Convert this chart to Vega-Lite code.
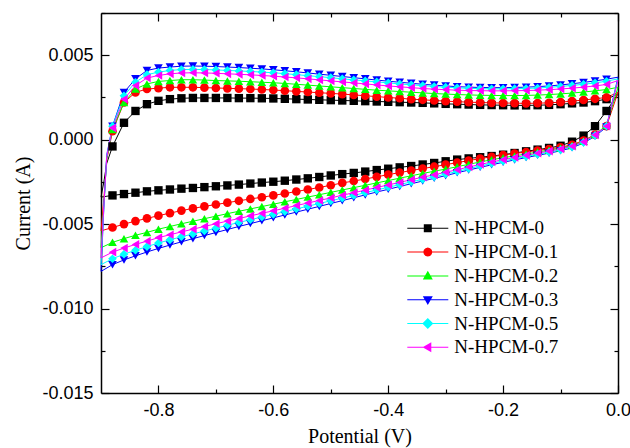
{
"$schema":"https://vega.github.io/schema/vega-lite/v6.json",
"width":517,"height":380,
"autosize":"none",
"padding":{"left":101,"top":13,"right":12,"bottom":55},
"background":"white",
"data":{"values":[
{"sample":"N-HPCM-0","scan":"fwd","E":-0.9,"I":-0.0034},{"sample":"N-HPCM-0","scan":"fwd","E":-0.895,"I":-0.0025},{"sample":"N-HPCM-0","scan":"fwd","E":-0.89,"I":-0.0014},{"sample":"N-HPCM-0","scan":"fwd","E":-0.88,"I":-0.0004},{"sample":"N-HPCM-0","scan":"fwd","E":-0.86,"I":0.001},{"sample":"N-HPCM-0","scan":"fwd","E":-0.84,"I":0.0017},{"sample":"N-HPCM-0","scan":"fwd","E":-0.82,"I":0.0021},{"sample":"N-HPCM-0","scan":"fwd","E":-0.8,"I":0.0023},{"sample":"N-HPCM-0","scan":"fwd","E":-0.78,"I":0.0024},{"sample":"N-HPCM-0","scan":"fwd","E":-0.76,"I":0.00245},{"sample":"N-HPCM-0","scan":"fwd","E":-0.74,"I":0.00247},{"sample":"N-HPCM-0","scan":"fwd","E":-0.72,"I":0.00247},{"sample":"N-HPCM-0","scan":"fwd","E":-0.7,"I":0.00247},{"sample":"N-HPCM-0","scan":"fwd","E":-0.68,"I":0.00247},{"sample":"N-HPCM-0","scan":"fwd","E":-0.66,"I":0.00246},{"sample":"N-HPCM-0","scan":"fwd","E":-0.64,"I":0.00246},{"sample":"N-HPCM-0","scan":"fwd","E":-0.62,"I":0.00245},{"sample":"N-HPCM-0","scan":"fwd","E":-0.6,"I":0.00244},{"sample":"N-HPCM-0","scan":"fwd","E":-0.58,"I":0.00242},{"sample":"N-HPCM-0","scan":"fwd","E":-0.56,"I":0.0024},{"sample":"N-HPCM-0","scan":"fwd","E":-0.54,"I":0.00238},{"sample":"N-HPCM-0","scan":"fwd","E":-0.52,"I":0.00236},{"sample":"N-HPCM-0","scan":"fwd","E":-0.5,"I":0.00234},{"sample":"N-HPCM-0","scan":"fwd","E":-0.48,"I":0.00232},{"sample":"N-HPCM-0","scan":"fwd","E":-0.46,"I":0.0023},{"sample":"N-HPCM-0","scan":"fwd","E":-0.44,"I":0.00228},{"sample":"N-HPCM-0","scan":"fwd","E":-0.42,"I":0.00226},{"sample":"N-HPCM-0","scan":"fwd","E":-0.4,"I":0.00224},{"sample":"N-HPCM-0","scan":"fwd","E":-0.38,"I":0.00222},{"sample":"N-HPCM-0","scan":"fwd","E":-0.36,"I":0.0022},{"sample":"N-HPCM-0","scan":"fwd","E":-0.34,"I":0.00218},{"sample":"N-HPCM-0","scan":"fwd","E":-0.32,"I":0.00215},{"sample":"N-HPCM-0","scan":"fwd","E":-0.3,"I":0.00212},{"sample":"N-HPCM-0","scan":"fwd","E":-0.28,"I":0.0021},{"sample":"N-HPCM-0","scan":"fwd","E":-0.26,"I":0.00208},{"sample":"N-HPCM-0","scan":"fwd","E":-0.24,"I":0.00206},{"sample":"N-HPCM-0","scan":"fwd","E":-0.22,"I":0.00205},{"sample":"N-HPCM-0","scan":"fwd","E":-0.2,"I":0.00204},{"sample":"N-HPCM-0","scan":"fwd","E":-0.18,"I":0.00203},{"sample":"N-HPCM-0","scan":"fwd","E":-0.16,"I":0.00203},{"sample":"N-HPCM-0","scan":"fwd","E":-0.14,"I":0.00204},{"sample":"N-HPCM-0","scan":"fwd","E":-0.12,"I":0.00206},{"sample":"N-HPCM-0","scan":"fwd","E":-0.1,"I":0.0021},{"sample":"N-HPCM-0","scan":"fwd","E":-0.08,"I":0.00215},{"sample":"N-HPCM-0","scan":"fwd","E":-0.06,"I":0.0022},{"sample":"N-HPCM-0","scan":"fwd","E":-0.04,"I":0.00228},{"sample":"N-HPCM-0","scan":"fwd","E":-0.02,"I":0.0024},{"sample":"N-HPCM-0","scan":"fwd","E":0,"I":0.0027},
{"sample":"N-HPCM-0","scan":"rev","E":0,"I":0.0027},{"sample":"N-HPCM-0","scan":"rev","E":-0.02,"I":0.0017},{"sample":"N-HPCM-0","scan":"rev","E":-0.04,"I":0.0008},{"sample":"N-HPCM-0","scan":"rev","E":-0.06,"I":0.00024},{"sample":"N-HPCM-0","scan":"rev","E":-0.08,"I":-0.00012},{"sample":"N-HPCM-0","scan":"rev","E":-0.1,"I":-0.00036},{"sample":"N-HPCM-0","scan":"rev","E":-0.12,"I":-0.00049},{"sample":"N-HPCM-0","scan":"rev","E":-0.14,"I":-0.00059},{"sample":"N-HPCM-0","scan":"rev","E":-0.16,"I":-0.00069},{"sample":"N-HPCM-0","scan":"rev","E":-0.18,"I":-0.00079},{"sample":"N-HPCM-0","scan":"rev","E":-0.2,"I":-0.00089},{"sample":"N-HPCM-0","scan":"rev","E":-0.22,"I":-0.00097},{"sample":"N-HPCM-0","scan":"rev","E":-0.24,"I":-0.00104},{"sample":"N-HPCM-0","scan":"rev","E":-0.26,"I":-0.00111},{"sample":"N-HPCM-0","scan":"rev","E":-0.28,"I":-0.00118},{"sample":"N-HPCM-0","scan":"rev","E":-0.3,"I":-0.00128},{"sample":"N-HPCM-0","scan":"rev","E":-0.32,"I":-0.00138},{"sample":"N-HPCM-0","scan":"rev","E":-0.34,"I":-0.00147},{"sample":"N-HPCM-0","scan":"rev","E":-0.36,"I":-0.00156},{"sample":"N-HPCM-0","scan":"rev","E":-0.38,"I":-0.00164},{"sample":"N-HPCM-0","scan":"rev","E":-0.4,"I":-0.00172},{"sample":"N-HPCM-0","scan":"rev","E":-0.42,"I":-0.0018},{"sample":"N-HPCM-0","scan":"rev","E":-0.44,"I":-0.00189},{"sample":"N-HPCM-0","scan":"rev","E":-0.46,"I":-0.00197},{"sample":"N-HPCM-0","scan":"rev","E":-0.48,"I":-0.00204},{"sample":"N-HPCM-0","scan":"rev","E":-0.5,"I":-0.00212},{"sample":"N-HPCM-0","scan":"rev","E":-0.52,"I":-0.00221},{"sample":"N-HPCM-0","scan":"rev","E":-0.54,"I":-0.00229},{"sample":"N-HPCM-0","scan":"rev","E":-0.56,"I":-0.00236},{"sample":"N-HPCM-0","scan":"rev","E":-0.58,"I":-0.00243},{"sample":"N-HPCM-0","scan":"rev","E":-0.6,"I":-0.00249},{"sample":"N-HPCM-0","scan":"rev","E":-0.62,"I":-0.00254},{"sample":"N-HPCM-0","scan":"rev","E":-0.64,"I":-0.0026},{"sample":"N-HPCM-0","scan":"rev","E":-0.66,"I":-0.00266},{"sample":"N-HPCM-0","scan":"rev","E":-0.68,"I":-0.00271},{"sample":"N-HPCM-0","scan":"rev","E":-0.7,"I":-0.00276},{"sample":"N-HPCM-0","scan":"rev","E":-0.72,"I":-0.00281},{"sample":"N-HPCM-0","scan":"rev","E":-0.74,"I":-0.00286},{"sample":"N-HPCM-0","scan":"rev","E":-0.76,"I":-0.0029},{"sample":"N-HPCM-0","scan":"rev","E":-0.78,"I":-0.00295},{"sample":"N-HPCM-0","scan":"rev","E":-0.8,"I":-0.003},{"sample":"N-HPCM-0","scan":"rev","E":-0.82,"I":-0.00306},{"sample":"N-HPCM-0","scan":"rev","E":-0.84,"I":-0.00314},{"sample":"N-HPCM-0","scan":"rev","E":-0.86,"I":-0.00322},{"sample":"N-HPCM-0","scan":"rev","E":-0.88,"I":-0.0033},{"sample":"N-HPCM-0","scan":"rev","E":-0.9,"I":-0.0034},
{"sample":"N-HPCM-0.1","scan":"fwd","E":-0.9,"I":-0.0054},{"sample":"N-HPCM-0.1","scan":"fwd","E":-0.895,"I":-0.0035},{"sample":"N-HPCM-0.1","scan":"fwd","E":-0.89,"I":-0.0012},{"sample":"N-HPCM-0.1","scan":"fwd","E":-0.88,"I":0.0005},{"sample":"N-HPCM-0.1","scan":"fwd","E":-0.86,"I":0.0022},{"sample":"N-HPCM-0.1","scan":"fwd","E":-0.84,"I":0.0028},{"sample":"N-HPCM-0.1","scan":"fwd","E":-0.82,"I":0.003},{"sample":"N-HPCM-0.1","scan":"fwd","E":-0.8,"I":0.00305},{"sample":"N-HPCM-0.1","scan":"fwd","E":-0.78,"I":0.0031},{"sample":"N-HPCM-0.1","scan":"fwd","E":-0.76,"I":0.0031},{"sample":"N-HPCM-0.1","scan":"fwd","E":-0.74,"I":0.0031},{"sample":"N-HPCM-0.1","scan":"fwd","E":-0.72,"I":0.00308},{"sample":"N-HPCM-0.1","scan":"fwd","E":-0.7,"I":0.00306},{"sample":"N-HPCM-0.1","scan":"fwd","E":-0.68,"I":0.00304},{"sample":"N-HPCM-0.1","scan":"fwd","E":-0.66,"I":0.00302},{"sample":"N-HPCM-0.1","scan":"fwd","E":-0.64,"I":0.003},{"sample":"N-HPCM-0.1","scan":"fwd","E":-0.62,"I":0.00297},{"sample":"N-HPCM-0.1","scan":"fwd","E":-0.6,"I":0.00294},{"sample":"N-HPCM-0.1","scan":"fwd","E":-0.58,"I":0.0029},{"sample":"N-HPCM-0.1","scan":"fwd","E":-0.56,"I":0.00286},{"sample":"N-HPCM-0.1","scan":"fwd","E":-0.54,"I":0.00282},{"sample":"N-HPCM-0.1","scan":"fwd","E":-0.52,"I":0.00278},{"sample":"N-HPCM-0.1","scan":"fwd","E":-0.5,"I":0.00274},{"sample":"N-HPCM-0.1","scan":"fwd","E":-0.48,"I":0.0027},{"sample":"N-HPCM-0.1","scan":"fwd","E":-0.46,"I":0.00265},{"sample":"N-HPCM-0.1","scan":"fwd","E":-0.44,"I":0.0026},{"sample":"N-HPCM-0.1","scan":"fwd","E":-0.42,"I":0.00255},{"sample":"N-HPCM-0.1","scan":"fwd","E":-0.4,"I":0.0025},{"sample":"N-HPCM-0.1","scan":"fwd","E":-0.38,"I":0.00245},{"sample":"N-HPCM-0.1","scan":"fwd","E":-0.36,"I":0.0024},{"sample":"N-HPCM-0.1","scan":"fwd","E":-0.34,"I":0.00236},{"sample":"N-HPCM-0.1","scan":"fwd","E":-0.32,"I":0.00232},{"sample":"N-HPCM-0.1","scan":"fwd","E":-0.3,"I":0.00228},{"sample":"N-HPCM-0.1","scan":"fwd","E":-0.28,"I":0.00225},{"sample":"N-HPCM-0.1","scan":"fwd","E":-0.26,"I":0.00222},{"sample":"N-HPCM-0.1","scan":"fwd","E":-0.24,"I":0.0022},{"sample":"N-HPCM-0.1","scan":"fwd","E":-0.22,"I":0.00218},{"sample":"N-HPCM-0.1","scan":"fwd","E":-0.2,"I":0.00217},{"sample":"N-HPCM-0.1","scan":"fwd","E":-0.18,"I":0.00216},{"sample":"N-HPCM-0.1","scan":"fwd","E":-0.16,"I":0.00215},{"sample":"N-HPCM-0.1","scan":"fwd","E":-0.14,"I":0.00216},{"sample":"N-HPCM-0.1","scan":"fwd","E":-0.12,"I":0.00218},{"sample":"N-HPCM-0.1","scan":"fwd","E":-0.1,"I":0.00222},{"sample":"N-HPCM-0.1","scan":"fwd","E":-0.08,"I":0.00228},{"sample":"N-HPCM-0.1","scan":"fwd","E":-0.06,"I":0.00235},{"sample":"N-HPCM-0.1","scan":"fwd","E":-0.04,"I":0.00242},{"sample":"N-HPCM-0.1","scan":"fwd","E":-0.02,"I":0.0025},{"sample":"N-HPCM-0.1","scan":"fwd","E":0,"I":0.0028},
{"sample":"N-HPCM-0.1","scan":"rev","E":0,"I":0.0028},{"sample":"N-HPCM-0.1","scan":"rev","E":-0.02,"I":0.0008},{"sample":"N-HPCM-0.1","scan":"rev","E":-0.04,"I":0.0003},{"sample":"N-HPCM-0.1","scan":"rev","E":-0.06,"I":-0.00005},{"sample":"N-HPCM-0.1","scan":"rev","E":-0.08,"I":-0.0003},{"sample":"N-HPCM-0.1","scan":"rev","E":-0.1,"I":-0.00045},{"sample":"N-HPCM-0.1","scan":"rev","E":-0.12,"I":-0.00055},{"sample":"N-HPCM-0.1","scan":"rev","E":-0.14,"I":-0.00064},{"sample":"N-HPCM-0.1","scan":"rev","E":-0.16,"I":-0.00073},{"sample":"N-HPCM-0.1","scan":"rev","E":-0.18,"I":-0.00082},{"sample":"N-HPCM-0.1","scan":"rev","E":-0.2,"I":-0.00091},{"sample":"N-HPCM-0.1","scan":"rev","E":-0.22,"I":-0.00101},{"sample":"N-HPCM-0.1","scan":"rev","E":-0.24,"I":-0.00112},{"sample":"N-HPCM-0.1","scan":"rev","E":-0.26,"I":-0.00124},{"sample":"N-HPCM-0.1","scan":"rev","E":-0.28,"I":-0.00136},{"sample":"N-HPCM-0.1","scan":"rev","E":-0.3,"I":-0.00148},{"sample":"N-HPCM-0.1","scan":"rev","E":-0.32,"I":-0.0016},{"sample":"N-HPCM-0.1","scan":"rev","E":-0.34,"I":-0.00171},{"sample":"N-HPCM-0.1","scan":"rev","E":-0.36,"I":-0.00183},{"sample":"N-HPCM-0.1","scan":"rev","E":-0.38,"I":-0.00195},{"sample":"N-HPCM-0.1","scan":"rev","E":-0.4,"I":-0.00207},{"sample":"N-HPCM-0.1","scan":"rev","E":-0.42,"I":-0.0022},{"sample":"N-HPCM-0.1","scan":"rev","E":-0.44,"I":-0.00233},{"sample":"N-HPCM-0.1","scan":"rev","E":-0.46,"I":-0.00245},{"sample":"N-HPCM-0.1","scan":"rev","E":-0.48,"I":-0.00256},{"sample":"N-HPCM-0.1","scan":"rev","E":-0.5,"I":-0.0027},{"sample":"N-HPCM-0.1","scan":"rev","E":-0.52,"I":-0.00283},{"sample":"N-HPCM-0.1","scan":"rev","E":-0.54,"I":-0.00295},{"sample":"N-HPCM-0.1","scan":"rev","E":-0.56,"I":-0.00307},{"sample":"N-HPCM-0.1","scan":"rev","E":-0.58,"I":-0.00319},{"sample":"N-HPCM-0.1","scan":"rev","E":-0.6,"I":-0.0033},{"sample":"N-HPCM-0.1","scan":"rev","E":-0.62,"I":-0.00341},{"sample":"N-HPCM-0.1","scan":"rev","E":-0.64,"I":-0.00351},{"sample":"N-HPCM-0.1","scan":"rev","E":-0.66,"I":-0.00362},{"sample":"N-HPCM-0.1","scan":"rev","E":-0.68,"I":-0.00373},{"sample":"N-HPCM-0.1","scan":"rev","E":-0.7,"I":-0.00384},{"sample":"N-HPCM-0.1","scan":"rev","E":-0.72,"I":-0.00395},{"sample":"N-HPCM-0.1","scan":"rev","E":-0.74,"I":-0.00407},{"sample":"N-HPCM-0.1","scan":"rev","E":-0.76,"I":-0.0042},{"sample":"N-HPCM-0.1","scan":"rev","E":-0.78,"I":-0.00435},{"sample":"N-HPCM-0.1","scan":"rev","E":-0.8,"I":-0.0045},{"sample":"N-HPCM-0.1","scan":"rev","E":-0.82,"I":-0.00466},{"sample":"N-HPCM-0.1","scan":"rev","E":-0.84,"I":-0.00482},{"sample":"N-HPCM-0.1","scan":"rev","E":-0.86,"I":-0.005},{"sample":"N-HPCM-0.1","scan":"rev","E":-0.88,"I":-0.0052},{"sample":"N-HPCM-0.1","scan":"rev","E":-0.9,"I":-0.0054},
{"sample":"N-HPCM-0.2","scan":"fwd","E":-0.9,"I":-0.0064},{"sample":"N-HPCM-0.2","scan":"fwd","E":-0.895,"I":-0.0038},{"sample":"N-HPCM-0.2","scan":"fwd","E":-0.89,"I":-0.0011},{"sample":"N-HPCM-0.2","scan":"fwd","E":-0.88,"I":0.0006},{"sample":"N-HPCM-0.2","scan":"fwd","E":-0.86,"I":0.0022},{"sample":"N-HPCM-0.2","scan":"fwd","E":-0.84,"I":0.003},{"sample":"N-HPCM-0.2","scan":"fwd","E":-0.82,"I":0.0033},{"sample":"N-HPCM-0.2","scan":"fwd","E":-0.8,"I":0.00345},{"sample":"N-HPCM-0.2","scan":"fwd","E":-0.78,"I":0.0035},{"sample":"N-HPCM-0.2","scan":"fwd","E":-0.76,"I":0.00355},{"sample":"N-HPCM-0.2","scan":"fwd","E":-0.74,"I":0.00355},{"sample":"N-HPCM-0.2","scan":"fwd","E":-0.72,"I":0.00353},{"sample":"N-HPCM-0.2","scan":"fwd","E":-0.7,"I":0.0035},{"sample":"N-HPCM-0.2","scan":"fwd","E":-0.68,"I":0.00348},{"sample":"N-HPCM-0.2","scan":"fwd","E":-0.66,"I":0.00346},{"sample":"N-HPCM-0.2","scan":"fwd","E":-0.64,"I":0.00343},{"sample":"N-HPCM-0.2","scan":"fwd","E":-0.62,"I":0.0034},{"sample":"N-HPCM-0.2","scan":"fwd","E":-0.6,"I":0.00337},{"sample":"N-HPCM-0.2","scan":"fwd","E":-0.58,"I":0.00333},{"sample":"N-HPCM-0.2","scan":"fwd","E":-0.56,"I":0.00328},{"sample":"N-HPCM-0.2","scan":"fwd","E":-0.54,"I":0.00323},{"sample":"N-HPCM-0.2","scan":"fwd","E":-0.52,"I":0.00318},{"sample":"N-HPCM-0.2","scan":"fwd","E":-0.5,"I":0.00313},{"sample":"N-HPCM-0.2","scan":"fwd","E":-0.48,"I":0.00308},{"sample":"N-HPCM-0.2","scan":"fwd","E":-0.46,"I":0.00303},{"sample":"N-HPCM-0.2","scan":"fwd","E":-0.44,"I":0.00298},{"sample":"N-HPCM-0.2","scan":"fwd","E":-0.42,"I":0.00293},{"sample":"N-HPCM-0.2","scan":"fwd","E":-0.4,"I":0.00289},{"sample":"N-HPCM-0.2","scan":"fwd","E":-0.38,"I":0.00285},{"sample":"N-HPCM-0.2","scan":"fwd","E":-0.36,"I":0.00281},{"sample":"N-HPCM-0.2","scan":"fwd","E":-0.34,"I":0.00277},{"sample":"N-HPCM-0.2","scan":"fwd","E":-0.32,"I":0.00273},{"sample":"N-HPCM-0.2","scan":"fwd","E":-0.3,"I":0.0027},{"sample":"N-HPCM-0.2","scan":"fwd","E":-0.28,"I":0.00267},{"sample":"N-HPCM-0.2","scan":"fwd","E":-0.26,"I":0.00265},{"sample":"N-HPCM-0.2","scan":"fwd","E":-0.24,"I":0.00263},{"sample":"N-HPCM-0.2","scan":"fwd","E":-0.22,"I":0.00262},{"sample":"N-HPCM-0.2","scan":"fwd","E":-0.2,"I":0.00261},{"sample":"N-HPCM-0.2","scan":"fwd","E":-0.18,"I":0.00261},{"sample":"N-HPCM-0.2","scan":"fwd","E":-0.16,"I":0.00262},{"sample":"N-HPCM-0.2","scan":"fwd","E":-0.14,"I":0.00264},{"sample":"N-HPCM-0.2","scan":"fwd","E":-0.12,"I":0.00267},{"sample":"N-HPCM-0.2","scan":"fwd","E":-0.1,"I":0.00271},{"sample":"N-HPCM-0.2","scan":"fwd","E":-0.08,"I":0.00276},{"sample":"N-HPCM-0.2","scan":"fwd","E":-0.06,"I":0.00282},{"sample":"N-HPCM-0.2","scan":"fwd","E":-0.04,"I":0.00289},{"sample":"N-HPCM-0.2","scan":"fwd","E":-0.02,"I":0.00297},{"sample":"N-HPCM-0.2","scan":"fwd","E":0,"I":0.0031},
{"sample":"N-HPCM-0.2","scan":"rev","E":0,"I":0.0031},{"sample":"N-HPCM-0.2","scan":"rev","E":-0.02,"I":0.00085},{"sample":"N-HPCM-0.2","scan":"rev","E":-0.04,"I":0.0003},{"sample":"N-HPCM-0.2","scan":"rev","E":-0.06,"I":-0.0001},{"sample":"N-HPCM-0.2","scan":"rev","E":-0.08,"I":-0.00035},{"sample":"N-HPCM-0.2","scan":"rev","E":-0.1,"I":-0.0005},{"sample":"N-HPCM-0.2","scan":"rev","E":-0.12,"I":-0.00062},{"sample":"N-HPCM-0.2","scan":"rev","E":-0.14,"I":-0.00073},{"sample":"N-HPCM-0.2","scan":"rev","E":-0.16,"I":-0.00085},{"sample":"N-HPCM-0.2","scan":"rev","E":-0.18,"I":-0.00096},{"sample":"N-HPCM-0.2","scan":"rev","E":-0.2,"I":-0.00107},{"sample":"N-HPCM-0.2","scan":"rev","E":-0.22,"I":-0.00119},{"sample":"N-HPCM-0.2","scan":"rev","E":-0.24,"I":-0.00132},{"sample":"N-HPCM-0.2","scan":"rev","E":-0.26,"I":-0.00146},{"sample":"N-HPCM-0.2","scan":"rev","E":-0.28,"I":-0.0016},{"sample":"N-HPCM-0.2","scan":"rev","E":-0.3,"I":-0.00174},{"sample":"N-HPCM-0.2","scan":"rev","E":-0.32,"I":-0.00187},{"sample":"N-HPCM-0.2","scan":"rev","E":-0.34,"I":-0.002},{"sample":"N-HPCM-0.2","scan":"rev","E":-0.36,"I":-0.00214},{"sample":"N-HPCM-0.2","scan":"rev","E":-0.38,"I":-0.00228},{"sample":"N-HPCM-0.2","scan":"rev","E":-0.4,"I":-0.00242},{"sample":"N-HPCM-0.2","scan":"rev","E":-0.42,"I":-0.00256},{"sample":"N-HPCM-0.2","scan":"rev","E":-0.44,"I":-0.0027},{"sample":"N-HPCM-0.2","scan":"rev","E":-0.46,"I":-0.00284},{"sample":"N-HPCM-0.2","scan":"rev","E":-0.48,"I":-0.00298},{"sample":"N-HPCM-0.2","scan":"rev","E":-0.5,"I":-0.00312},{"sample":"N-HPCM-0.2","scan":"rev","E":-0.52,"I":-0.00326},{"sample":"N-HPCM-0.2","scan":"rev","E":-0.54,"I":-0.0034},{"sample":"N-HPCM-0.2","scan":"rev","E":-0.56,"I":-0.00354},{"sample":"N-HPCM-0.2","scan":"rev","E":-0.58,"I":-0.00368},{"sample":"N-HPCM-0.2","scan":"rev","E":-0.6,"I":-0.00382},{"sample":"N-HPCM-0.2","scan":"rev","E":-0.62,"I":-0.00396},{"sample":"N-HPCM-0.2","scan":"rev","E":-0.64,"I":-0.0041},{"sample":"N-HPCM-0.2","scan":"rev","E":-0.66,"I":-0.00424},{"sample":"N-HPCM-0.2","scan":"rev","E":-0.68,"I":-0.00438},{"sample":"N-HPCM-0.2","scan":"rev","E":-0.7,"I":-0.00453},{"sample":"N-HPCM-0.2","scan":"rev","E":-0.72,"I":-0.00468},{"sample":"N-HPCM-0.2","scan":"rev","E":-0.74,"I":-0.00483},{"sample":"N-HPCM-0.2","scan":"rev","E":-0.76,"I":-0.00498},{"sample":"N-HPCM-0.2","scan":"rev","E":-0.78,"I":-0.00514},{"sample":"N-HPCM-0.2","scan":"rev","E":-0.8,"I":-0.0053},{"sample":"N-HPCM-0.2","scan":"rev","E":-0.82,"I":-0.00549},{"sample":"N-HPCM-0.2","scan":"rev","E":-0.84,"I":-0.00566},{"sample":"N-HPCM-0.2","scan":"rev","E":-0.86,"I":-0.00586},{"sample":"N-HPCM-0.2","scan":"rev","E":-0.88,"I":-0.00608},{"sample":"N-HPCM-0.2","scan":"rev","E":-0.9,"I":-0.0064},
{"sample":"N-HPCM-0.3","scan":"fwd","E":-0.9,"I":-0.0078},{"sample":"N-HPCM-0.3","scan":"fwd","E":-0.895,"I":-0.004},{"sample":"N-HPCM-0.3","scan":"fwd","E":-0.89,"I":-0.0009},{"sample":"N-HPCM-0.3","scan":"fwd","E":-0.88,"I":0.0008},{"sample":"N-HPCM-0.3","scan":"fwd","E":-0.86,"I":0.0028},{"sample":"N-HPCM-0.3","scan":"fwd","E":-0.84,"I":0.0036},{"sample":"N-HPCM-0.3","scan":"fwd","E":-0.82,"I":0.0041},{"sample":"N-HPCM-0.3","scan":"fwd","E":-0.8,"I":0.00424},{"sample":"N-HPCM-0.3","scan":"fwd","E":-0.78,"I":0.0043},{"sample":"N-HPCM-0.3","scan":"fwd","E":-0.76,"I":0.00435},{"sample":"N-HPCM-0.3","scan":"fwd","E":-0.74,"I":0.00436},{"sample":"N-HPCM-0.3","scan":"fwd","E":-0.72,"I":0.00435},{"sample":"N-HPCM-0.3","scan":"fwd","E":-0.7,"I":0.00433},{"sample":"N-HPCM-0.3","scan":"fwd","E":-0.68,"I":0.0043},{"sample":"N-HPCM-0.3","scan":"fwd","E":-0.66,"I":0.00427},{"sample":"N-HPCM-0.3","scan":"fwd","E":-0.64,"I":0.00423},{"sample":"N-HPCM-0.3","scan":"fwd","E":-0.62,"I":0.00419},{"sample":"N-HPCM-0.3","scan":"fwd","E":-0.6,"I":0.00414},{"sample":"N-HPCM-0.3","scan":"fwd","E":-0.58,"I":0.00408},{"sample":"N-HPCM-0.3","scan":"fwd","E":-0.56,"I":0.00402},{"sample":"N-HPCM-0.3","scan":"fwd","E":-0.54,"I":0.00395},{"sample":"N-HPCM-0.3","scan":"fwd","E":-0.52,"I":0.00388},{"sample":"N-HPCM-0.3","scan":"fwd","E":-0.5,"I":0.00381},{"sample":"N-HPCM-0.3","scan":"fwd","E":-0.48,"I":0.00374},{"sample":"N-HPCM-0.3","scan":"fwd","E":-0.46,"I":0.00367},{"sample":"N-HPCM-0.3","scan":"fwd","E":-0.44,"I":0.0036},{"sample":"N-HPCM-0.3","scan":"fwd","E":-0.42,"I":0.00353},{"sample":"N-HPCM-0.3","scan":"fwd","E":-0.4,"I":0.00346},{"sample":"N-HPCM-0.3","scan":"fwd","E":-0.38,"I":0.0034},{"sample":"N-HPCM-0.3","scan":"fwd","E":-0.36,"I":0.00334},{"sample":"N-HPCM-0.3","scan":"fwd","E":-0.34,"I":0.00328},{"sample":"N-HPCM-0.3","scan":"fwd","E":-0.32,"I":0.00323},{"sample":"N-HPCM-0.3","scan":"fwd","E":-0.3,"I":0.00318},{"sample":"N-HPCM-0.3","scan":"fwd","E":-0.28,"I":0.00314},{"sample":"N-HPCM-0.3","scan":"fwd","E":-0.26,"I":0.00311},{"sample":"N-HPCM-0.3","scan":"fwd","E":-0.24,"I":0.00309},{"sample":"N-HPCM-0.3","scan":"fwd","E":-0.22,"I":0.00308},{"sample":"N-HPCM-0.3","scan":"fwd","E":-0.2,"I":0.00308},{"sample":"N-HPCM-0.3","scan":"fwd","E":-0.18,"I":0.00309},{"sample":"N-HPCM-0.3","scan":"fwd","E":-0.16,"I":0.00311},{"sample":"N-HPCM-0.3","scan":"fwd","E":-0.14,"I":0.00314},{"sample":"N-HPCM-0.3","scan":"fwd","E":-0.12,"I":0.00318},{"sample":"N-HPCM-0.3","scan":"fwd","E":-0.1,"I":0.00324},{"sample":"N-HPCM-0.3","scan":"fwd","E":-0.08,"I":0.00331},{"sample":"N-HPCM-0.3","scan":"fwd","E":-0.06,"I":0.00339},{"sample":"N-HPCM-0.3","scan":"fwd","E":-0.04,"I":0.00348},{"sample":"N-HPCM-0.3","scan":"fwd","E":-0.02,"I":0.00358},{"sample":"N-HPCM-0.3","scan":"fwd","E":0,"I":0.0037},
{"sample":"N-HPCM-0.3","scan":"rev","E":0,"I":0.0037},{"sample":"N-HPCM-0.3","scan":"rev","E":-0.02,"I":0.00075},{"sample":"N-HPCM-0.3","scan":"rev","E":-0.04,"I":0.0002},{"sample":"N-HPCM-0.3","scan":"rev","E":-0.06,"I":-0.0002},{"sample":"N-HPCM-0.3","scan":"rev","E":-0.08,"I":-0.00048},{"sample":"N-HPCM-0.3","scan":"rev","E":-0.1,"I":-0.00066},{"sample":"N-HPCM-0.3","scan":"rev","E":-0.12,"I":-0.0008},{"sample":"N-HPCM-0.3","scan":"rev","E":-0.14,"I":-0.00093},{"sample":"N-HPCM-0.3","scan":"rev","E":-0.16,"I":-0.00106},{"sample":"N-HPCM-0.3","scan":"rev","E":-0.18,"I":-0.0012},{"sample":"N-HPCM-0.3","scan":"rev","E":-0.2,"I":-0.00134},{"sample":"N-HPCM-0.3","scan":"rev","E":-0.22,"I":-0.00149},{"sample":"N-HPCM-0.3","scan":"rev","E":-0.24,"I":-0.00164},{"sample":"N-HPCM-0.3","scan":"rev","E":-0.26,"I":-0.0018},{"sample":"N-HPCM-0.3","scan":"rev","E":-0.28,"I":-0.00196},{"sample":"N-HPCM-0.3","scan":"rev","E":-0.3,"I":-0.00213},{"sample":"N-HPCM-0.3","scan":"rev","E":-0.32,"I":-0.00229},{"sample":"N-HPCM-0.3","scan":"rev","E":-0.34,"I":-0.00245},{"sample":"N-HPCM-0.3","scan":"rev","E":-0.36,"I":-0.00261},{"sample":"N-HPCM-0.3","scan":"rev","E":-0.38,"I":-0.00277},{"sample":"N-HPCM-0.3","scan":"rev","E":-0.4,"I":-0.00294},{"sample":"N-HPCM-0.3","scan":"rev","E":-0.42,"I":-0.0031},{"sample":"N-HPCM-0.3","scan":"rev","E":-0.44,"I":-0.00327},{"sample":"N-HPCM-0.3","scan":"rev","E":-0.46,"I":-0.00344},{"sample":"N-HPCM-0.3","scan":"rev","E":-0.48,"I":-0.00361},{"sample":"N-HPCM-0.3","scan":"rev","E":-0.5,"I":-0.00378},{"sample":"N-HPCM-0.3","scan":"rev","E":-0.52,"I":-0.00395},{"sample":"N-HPCM-0.3","scan":"rev","E":-0.54,"I":-0.00412},{"sample":"N-HPCM-0.3","scan":"rev","E":-0.56,"I":-0.00429},{"sample":"N-HPCM-0.3","scan":"rev","E":-0.58,"I":-0.00446},{"sample":"N-HPCM-0.3","scan":"rev","E":-0.6,"I":-0.00463},{"sample":"N-HPCM-0.3","scan":"rev","E":-0.62,"I":-0.0048},{"sample":"N-HPCM-0.3","scan":"rev","E":-0.64,"I":-0.00497},{"sample":"N-HPCM-0.3","scan":"rev","E":-0.66,"I":-0.00514},{"sample":"N-HPCM-0.3","scan":"rev","E":-0.68,"I":-0.00532},{"sample":"N-HPCM-0.3","scan":"rev","E":-0.7,"I":-0.0055},{"sample":"N-HPCM-0.3","scan":"rev","E":-0.72,"I":-0.00568},{"sample":"N-HPCM-0.3","scan":"rev","E":-0.74,"I":-0.00586},{"sample":"N-HPCM-0.3","scan":"rev","E":-0.76,"I":-0.00605},{"sample":"N-HPCM-0.3","scan":"rev","E":-0.78,"I":-0.00624},{"sample":"N-HPCM-0.3","scan":"rev","E":-0.8,"I":-0.00644},{"sample":"N-HPCM-0.3","scan":"rev","E":-0.82,"I":-0.00665},{"sample":"N-HPCM-0.3","scan":"rev","E":-0.84,"I":-0.00688},{"sample":"N-HPCM-0.3","scan":"rev","E":-0.86,"I":-0.00712},{"sample":"N-HPCM-0.3","scan":"rev","E":-0.88,"I":-0.0074},{"sample":"N-HPCM-0.3","scan":"rev","E":-0.9,"I":-0.0078},
{"sample":"N-HPCM-0.5","scan":"fwd","E":-0.9,"I":-0.0074},{"sample":"N-HPCM-0.5","scan":"fwd","E":-0.895,"I":-0.004},{"sample":"N-HPCM-0.5","scan":"fwd","E":-0.89,"I":-0.001},{"sample":"N-HPCM-0.5","scan":"fwd","E":-0.88,"I":0.0008},{"sample":"N-HPCM-0.5","scan":"fwd","E":-0.86,"I":0.0026},{"sample":"N-HPCM-0.5","scan":"fwd","E":-0.84,"I":0.0034},{"sample":"N-HPCM-0.5","scan":"fwd","E":-0.82,"I":0.00385},{"sample":"N-HPCM-0.5","scan":"fwd","E":-0.8,"I":0.004},{"sample":"N-HPCM-0.5","scan":"fwd","E":-0.78,"I":0.0041},{"sample":"N-HPCM-0.5","scan":"fwd","E":-0.76,"I":0.00415},{"sample":"N-HPCM-0.5","scan":"fwd","E":-0.74,"I":0.00416},{"sample":"N-HPCM-0.5","scan":"fwd","E":-0.72,"I":0.00415},{"sample":"N-HPCM-0.5","scan":"fwd","E":-0.7,"I":0.00413},{"sample":"N-HPCM-0.5","scan":"fwd","E":-0.68,"I":0.0041},{"sample":"N-HPCM-0.5","scan":"fwd","E":-0.66,"I":0.00407},{"sample":"N-HPCM-0.5","scan":"fwd","E":-0.64,"I":0.00404},{"sample":"N-HPCM-0.5","scan":"fwd","E":-0.62,"I":0.004},{"sample":"N-HPCM-0.5","scan":"fwd","E":-0.6,"I":0.00396},{"sample":"N-HPCM-0.5","scan":"fwd","E":-0.58,"I":0.00391},{"sample":"N-HPCM-0.5","scan":"fwd","E":-0.56,"I":0.00385},{"sample":"N-HPCM-0.5","scan":"fwd","E":-0.54,"I":0.00379},{"sample":"N-HPCM-0.5","scan":"fwd","E":-0.52,"I":0.00373},{"sample":"N-HPCM-0.5","scan":"fwd","E":-0.5,"I":0.00367},{"sample":"N-HPCM-0.5","scan":"fwd","E":-0.48,"I":0.0036},{"sample":"N-HPCM-0.5","scan":"fwd","E":-0.46,"I":0.00354},{"sample":"N-HPCM-0.5","scan":"fwd","E":-0.44,"I":0.00348},{"sample":"N-HPCM-0.5","scan":"fwd","E":-0.42,"I":0.00342},{"sample":"N-HPCM-0.5","scan":"fwd","E":-0.4,"I":0.00336},{"sample":"N-HPCM-0.5","scan":"fwd","E":-0.38,"I":0.0033},{"sample":"N-HPCM-0.5","scan":"fwd","E":-0.36,"I":0.00325},{"sample":"N-HPCM-0.5","scan":"fwd","E":-0.34,"I":0.0032},{"sample":"N-HPCM-0.5","scan":"fwd","E":-0.32,"I":0.00315},{"sample":"N-HPCM-0.5","scan":"fwd","E":-0.3,"I":0.00311},{"sample":"N-HPCM-0.5","scan":"fwd","E":-0.28,"I":0.00307},{"sample":"N-HPCM-0.5","scan":"fwd","E":-0.26,"I":0.00304},{"sample":"N-HPCM-0.5","scan":"fwd","E":-0.24,"I":0.00302},{"sample":"N-HPCM-0.5","scan":"fwd","E":-0.22,"I":0.00301},{"sample":"N-HPCM-0.5","scan":"fwd","E":-0.2,"I":0.00301},{"sample":"N-HPCM-0.5","scan":"fwd","E":-0.18,"I":0.00302},{"sample":"N-HPCM-0.5","scan":"fwd","E":-0.16,"I":0.00303},{"sample":"N-HPCM-0.5","scan":"fwd","E":-0.14,"I":0.00306},{"sample":"N-HPCM-0.5","scan":"fwd","E":-0.12,"I":0.0031},{"sample":"N-HPCM-0.5","scan":"fwd","E":-0.1,"I":0.00315},{"sample":"N-HPCM-0.5","scan":"fwd","E":-0.08,"I":0.00321},{"sample":"N-HPCM-0.5","scan":"fwd","E":-0.06,"I":0.00328},{"sample":"N-HPCM-0.5","scan":"fwd","E":-0.04,"I":0.00336},{"sample":"N-HPCM-0.5","scan":"fwd","E":-0.02,"I":0.00346},{"sample":"N-HPCM-0.5","scan":"fwd","E":0,"I":0.0036},
{"sample":"N-HPCM-0.5","scan":"rev","E":0,"I":0.0036},{"sample":"N-HPCM-0.5","scan":"rev","E":-0.02,"I":0.0008},{"sample":"N-HPCM-0.5","scan":"rev","E":-0.04,"I":0.00025},{"sample":"N-HPCM-0.5","scan":"rev","E":-0.06,"I":-0.00016},{"sample":"N-HPCM-0.5","scan":"rev","E":-0.08,"I":-0.00043},{"sample":"N-HPCM-0.5","scan":"rev","E":-0.1,"I":-0.0006},{"sample":"N-HPCM-0.5","scan":"rev","E":-0.12,"I":-0.00074},{"sample":"N-HPCM-0.5","scan":"rev","E":-0.14,"I":-0.00087},{"sample":"N-HPCM-0.5","scan":"rev","E":-0.16,"I":-0.001},{"sample":"N-HPCM-0.5","scan":"rev","E":-0.18,"I":-0.00113},{"sample":"N-HPCM-0.5","scan":"rev","E":-0.2,"I":-0.00127},{"sample":"N-HPCM-0.5","scan":"rev","E":-0.22,"I":-0.00141},{"sample":"N-HPCM-0.5","scan":"rev","E":-0.24,"I":-0.00156},{"sample":"N-HPCM-0.5","scan":"rev","E":-0.26,"I":-0.00172},{"sample":"N-HPCM-0.5","scan":"rev","E":-0.28,"I":-0.00188},{"sample":"N-HPCM-0.5","scan":"rev","E":-0.3,"I":-0.00204},{"sample":"N-HPCM-0.5","scan":"rev","E":-0.32,"I":-0.0022},{"sample":"N-HPCM-0.5","scan":"rev","E":-0.34,"I":-0.00235},{"sample":"N-HPCM-0.5","scan":"rev","E":-0.36,"I":-0.0025},{"sample":"N-HPCM-0.5","scan":"rev","E":-0.38,"I":-0.00266},{"sample":"N-HPCM-0.5","scan":"rev","E":-0.4,"I":-0.00282},{"sample":"N-HPCM-0.5","scan":"rev","E":-0.42,"I":-0.00298},{"sample":"N-HPCM-0.5","scan":"rev","E":-0.44,"I":-0.00314},{"sample":"N-HPCM-0.5","scan":"rev","E":-0.46,"I":-0.0033},{"sample":"N-HPCM-0.5","scan":"rev","E":-0.48,"I":-0.00346},{"sample":"N-HPCM-0.5","scan":"rev","E":-0.5,"I":-0.00362},{"sample":"N-HPCM-0.5","scan":"rev","E":-0.52,"I":-0.00378},{"sample":"N-HPCM-0.5","scan":"rev","E":-0.54,"I":-0.00394},{"sample":"N-HPCM-0.5","scan":"rev","E":-0.56,"I":-0.0041},{"sample":"N-HPCM-0.5","scan":"rev","E":-0.58,"I":-0.00426},{"sample":"N-HPCM-0.5","scan":"rev","E":-0.6,"I":-0.00442},{"sample":"N-HPCM-0.5","scan":"rev","E":-0.62,"I":-0.00458},{"sample":"N-HPCM-0.5","scan":"rev","E":-0.64,"I":-0.00474},{"sample":"N-HPCM-0.5","scan":"rev","E":-0.66,"I":-0.0049},{"sample":"N-HPCM-0.5","scan":"rev","E":-0.68,"I":-0.00507},{"sample":"N-HPCM-0.5","scan":"rev","E":-0.7,"I":-0.00524},{"sample":"N-HPCM-0.5","scan":"rev","E":-0.72,"I":-0.00541},{"sample":"N-HPCM-0.5","scan":"rev","E":-0.74,"I":-0.00558},{"sample":"N-HPCM-0.5","scan":"rev","E":-0.76,"I":-0.00575},{"sample":"N-HPCM-0.5","scan":"rev","E":-0.78,"I":-0.00593},{"sample":"N-HPCM-0.5","scan":"rev","E":-0.8,"I":-0.00612},{"sample":"N-HPCM-0.5","scan":"rev","E":-0.82,"I":-0.00633},{"sample":"N-HPCM-0.5","scan":"rev","E":-0.84,"I":-0.00655},{"sample":"N-HPCM-0.5","scan":"rev","E":-0.86,"I":-0.00678},{"sample":"N-HPCM-0.5","scan":"rev","E":-0.88,"I":-0.00705},{"sample":"N-HPCM-0.5","scan":"rev","E":-0.9,"I":-0.0074},
{"sample":"N-HPCM-0.7","scan":"fwd","E":-0.9,"I":-0.007},{"sample":"N-HPCM-0.7","scan":"fwd","E":-0.895,"I":-0.0039},{"sample":"N-HPCM-0.7","scan":"fwd","E":-0.89,"I":-0.001},{"sample":"N-HPCM-0.7","scan":"fwd","E":-0.88,"I":0.0007},{"sample":"N-HPCM-0.7","scan":"fwd","E":-0.86,"I":0.0024},{"sample":"N-HPCM-0.7","scan":"fwd","E":-0.84,"I":0.0032},{"sample":"N-HPCM-0.7","scan":"fwd","E":-0.82,"I":0.00365},{"sample":"N-HPCM-0.7","scan":"fwd","E":-0.8,"I":0.0038},{"sample":"N-HPCM-0.7","scan":"fwd","E":-0.78,"I":0.0039},{"sample":"N-HPCM-0.7","scan":"fwd","E":-0.76,"I":0.00395},{"sample":"N-HPCM-0.7","scan":"fwd","E":-0.74,"I":0.00396},{"sample":"N-HPCM-0.7","scan":"fwd","E":-0.72,"I":0.00395},{"sample":"N-HPCM-0.7","scan":"fwd","E":-0.7,"I":0.00393},{"sample":"N-HPCM-0.7","scan":"fwd","E":-0.68,"I":0.0039},{"sample":"N-HPCM-0.7","scan":"fwd","E":-0.66,"I":0.00387},{"sample":"N-HPCM-0.7","scan":"fwd","E":-0.64,"I":0.00384},{"sample":"N-HPCM-0.7","scan":"fwd","E":-0.62,"I":0.0038},{"sample":"N-HPCM-0.7","scan":"fwd","E":-0.6,"I":0.00376},{"sample":"N-HPCM-0.7","scan":"fwd","E":-0.58,"I":0.00371},{"sample":"N-HPCM-0.7","scan":"fwd","E":-0.56,"I":0.00366},{"sample":"N-HPCM-0.7","scan":"fwd","E":-0.54,"I":0.0036},{"sample":"N-HPCM-0.7","scan":"fwd","E":-0.52,"I":0.00354},{"sample":"N-HPCM-0.7","scan":"fwd","E":-0.5,"I":0.00348},{"sample":"N-HPCM-0.7","scan":"fwd","E":-0.48,"I":0.00342},{"sample":"N-HPCM-0.7","scan":"fwd","E":-0.46,"I":0.00336},{"sample":"N-HPCM-0.7","scan":"fwd","E":-0.44,"I":0.0033},{"sample":"N-HPCM-0.7","scan":"fwd","E":-0.42,"I":0.00324},{"sample":"N-HPCM-0.7","scan":"fwd","E":-0.4,"I":0.00318},{"sample":"N-HPCM-0.7","scan":"fwd","E":-0.38,"I":0.00313},{"sample":"N-HPCM-0.7","scan":"fwd","E":-0.36,"I":0.00308},{"sample":"N-HPCM-0.7","scan":"fwd","E":-0.34,"I":0.00303},{"sample":"N-HPCM-0.7","scan":"fwd","E":-0.32,"I":0.00299},{"sample":"N-HPCM-0.7","scan":"fwd","E":-0.3,"I":0.00296},{"sample":"N-HPCM-0.7","scan":"fwd","E":-0.28,"I":0.00293},{"sample":"N-HPCM-0.7","scan":"fwd","E":-0.26,"I":0.00291},{"sample":"N-HPCM-0.7","scan":"fwd","E":-0.24,"I":0.0029},{"sample":"N-HPCM-0.7","scan":"fwd","E":-0.22,"I":0.00289},{"sample":"N-HPCM-0.7","scan":"fwd","E":-0.2,"I":0.00289},{"sample":"N-HPCM-0.7","scan":"fwd","E":-0.18,"I":0.0029},{"sample":"N-HPCM-0.7","scan":"fwd","E":-0.16,"I":0.00291},{"sample":"N-HPCM-0.7","scan":"fwd","E":-0.14,"I":0.00293},{"sample":"N-HPCM-0.7","scan":"fwd","E":-0.12,"I":0.00296},{"sample":"N-HPCM-0.7","scan":"fwd","E":-0.1,"I":0.003},{"sample":"N-HPCM-0.7","scan":"fwd","E":-0.08,"I":0.00305},{"sample":"N-HPCM-0.7","scan":"fwd","E":-0.06,"I":0.00311},{"sample":"N-HPCM-0.7","scan":"fwd","E":-0.04,"I":0.00318},{"sample":"N-HPCM-0.7","scan":"fwd","E":-0.02,"I":0.00327},{"sample":"N-HPCM-0.7","scan":"fwd","E":0,"I":0.0035},
{"sample":"N-HPCM-0.7","scan":"rev","E":0,"I":0.0035},{"sample":"N-HPCM-0.7","scan":"rev","E":-0.02,"I":0.0008},{"sample":"N-HPCM-0.7","scan":"rev","E":-0.04,"I":0.00028},{"sample":"N-HPCM-0.7","scan":"rev","E":-0.06,"I":-0.00013},{"sample":"N-HPCM-0.7","scan":"rev","E":-0.08,"I":-0.00039},{"sample":"N-HPCM-0.7","scan":"rev","E":-0.1,"I":-0.00055},{"sample":"N-HPCM-0.7","scan":"rev","E":-0.12,"I":-0.00068},{"sample":"N-HPCM-0.7","scan":"rev","E":-0.14,"I":-0.0008},{"sample":"N-HPCM-0.7","scan":"rev","E":-0.16,"I":-0.00093},{"sample":"N-HPCM-0.7","scan":"rev","E":-0.18,"I":-0.00105},{"sample":"N-HPCM-0.7","scan":"rev","E":-0.2,"I":-0.00119},{"sample":"N-HPCM-0.7","scan":"rev","E":-0.22,"I":-0.00132},{"sample":"N-HPCM-0.7","scan":"rev","E":-0.24,"I":-0.00147},{"sample":"N-HPCM-0.7","scan":"rev","E":-0.26,"I":-0.00162},{"sample":"N-HPCM-0.7","scan":"rev","E":-0.28,"I":-0.00178},{"sample":"N-HPCM-0.7","scan":"rev","E":-0.3,"I":-0.00193},{"sample":"N-HPCM-0.7","scan":"rev","E":-0.32,"I":-0.00208},{"sample":"N-HPCM-0.7","scan":"rev","E":-0.34,"I":-0.00222},{"sample":"N-HPCM-0.7","scan":"rev","E":-0.36,"I":-0.00237},{"sample":"N-HPCM-0.7","scan":"rev","E":-0.38,"I":-0.00253},{"sample":"N-HPCM-0.7","scan":"rev","E":-0.4,"I":-0.00268},{"sample":"N-HPCM-0.7","scan":"rev","E":-0.42,"I":-0.00283},{"sample":"N-HPCM-0.7","scan":"rev","E":-0.44,"I":-0.00299},{"sample":"N-HPCM-0.7","scan":"rev","E":-0.46,"I":-0.00314},{"sample":"N-HPCM-0.7","scan":"rev","E":-0.48,"I":-0.00329},{"sample":"N-HPCM-0.7","scan":"rev","E":-0.5,"I":-0.00345},{"sample":"N-HPCM-0.7","scan":"rev","E":-0.52,"I":-0.0036},{"sample":"N-HPCM-0.7","scan":"rev","E":-0.54,"I":-0.00375},{"sample":"N-HPCM-0.7","scan":"rev","E":-0.56,"I":-0.0039},{"sample":"N-HPCM-0.7","scan":"rev","E":-0.58,"I":-0.00406},{"sample":"N-HPCM-0.7","scan":"rev","E":-0.6,"I":-0.00421},{"sample":"N-HPCM-0.7","scan":"rev","E":-0.62,"I":-0.00436},{"sample":"N-HPCM-0.7","scan":"rev","E":-0.64,"I":-0.00451},{"sample":"N-HPCM-0.7","scan":"rev","E":-0.66,"I":-0.00467},{"sample":"N-HPCM-0.7","scan":"rev","E":-0.68,"I":-0.00482},{"sample":"N-HPCM-0.7","scan":"rev","E":-0.7,"I":-0.00498},{"sample":"N-HPCM-0.7","scan":"rev","E":-0.72,"I":-0.00514},{"sample":"N-HPCM-0.7","scan":"rev","E":-0.74,"I":-0.0053},{"sample":"N-HPCM-0.7","scan":"rev","E":-0.76,"I":-0.00546},{"sample":"N-HPCM-0.7","scan":"rev","E":-0.78,"I":-0.00563},{"sample":"N-HPCM-0.7","scan":"rev","E":-0.8,"I":-0.0058},{"sample":"N-HPCM-0.7","scan":"rev","E":-0.82,"I":-0.00601},{"sample":"N-HPCM-0.7","scan":"rev","E":-0.84,"I":-0.0062},{"sample":"N-HPCM-0.7","scan":"rev","E":-0.86,"I":-0.00642},{"sample":"N-HPCM-0.7","scan":"rev","E":-0.88,"I":-0.00666},{"sample":"N-HPCM-0.7","scan":"rev","E":-0.9,"I":-0.007}
]},
"layer":[
{"layer":[
 {"transform":[{"filter":"false"}],
  "mark":{"type":"point","filled":true,"opacity":1},
  "encoding":{
   "x":{"field":"E","type":"quantitative","scale":{"domain":[-0.9,0],"nice":false,"zero":false},
    "axis":{"orient":"bottom","title":"Potential (V)","values":[-0.8,-0.7,-0.6,-0.5,-0.4,-0.3,-0.2,-0.1,0],"format":".1f",
     "labelExpr":"abs(round(datum.value*10))%2==0 ? replace(datum.label,'−','-') : ''",
     "tickSize":{"condition":{"test":"abs(round(datum.value*10))%2==0","value":-8},"value":-4},
     "labelPadding":16,"titlePadding":3}},
   "y":{"field":"I","type":"quantitative","scale":{"domain":[-0.015,0.0075],"nice":false,"zero":false},
    "axis":{"orient":"left","title":"Current (A)","values":[-0.015,-0.0125,-0.01,-0.0075,-0.005,-0.0025,0,0.0025,0.005,0.0075],"format":".3f",
     "labelExpr":"abs(round(datum.value*400))%2==0 ? replace(datum.label,'−','-') : ''",
     "tickSize":{"condition":{"test":"abs(round(datum.value*400))%2==0","value":-8},"value":-4},
     "labelPadding":16,"titlePadding":8}},
   "color":{"field":"sample","type":"nominal",
    "scale":{"domain":["N-HPCM-0","N-HPCM-0.1","N-HPCM-0.2","N-HPCM-0.3","N-HPCM-0.5","N-HPCM-0.7"],"range":["#000000","#ff0000","#00ff00","#0000ff","#00ffff","#ff00ff"]},
    "legend":{"title":null,"orient":"none","legendX":301.8,"legendY":205.8,"padding":0,
     "labelFont":"Liberation Serif","labelFontSize":19,"labelColor":"black","labelOffset":32.5,"labelLimit":300,
     "symbolSize":100,"rowPadding":3.8,"symbolStrokeWidth":0,"symbolOpacity":1}},
   "shape":{"field":"sample","type":"nominal",
    "scale":{"domain":["N-HPCM-0","N-HPCM-0.1","N-HPCM-0.2","N-HPCM-0.3","N-HPCM-0.5","N-HPCM-0.7"],
     "range":["M-1,-0.1L7.2,-0.1L7.2,0.1L-1,0.1ZM2.3,-0.8L3.9,-0.8L3.9,0.8L2.3,0.8Z",
      "M-1,-0.1L7.2,-0.1L7.2,0.1L-1,0.1ZM4,0L3.88,0.45L3.55,0.78L3.1,0.9L2.65,0.78L2.32,0.45L2.2,0L2.32,-0.45L2.65,-0.78L3.1,-0.9L3.55,-0.78L3.88,-0.45Z",
      "M-1,-0.1L7.2,-0.1L7.2,0.1L-1,0.1ZM3.1,-1.05L4.1,0.7L2.1,0.7Z",
      "M-1,-0.1L7.2,-0.1L7.2,0.1L-1,0.1ZM3.1,1.05L2.1,-0.7L4.1,-0.7Z",
      "M-1,-0.1L7.2,-0.1L7.2,0.1L-1,0.1ZM3.1,-1.1L4.2,0L3.1,1.1L2,0Z",
      "M-1,-0.1L7.2,-0.1L7.2,0.1L-1,0.1ZM2.05,0L3.8,-1L3.8,1Z"]},
    "legend":{"title":null,"orient":"none","legendX":301.8,"legendY":205.8,"padding":0,
     "labelFont":"Liberation Serif","labelFontSize":19,"labelColor":"black","labelOffset":32.5,"labelLimit":300,
     "symbolSize":100,"rowPadding":3.8,"symbolStrokeWidth":0,"symbolOpacity":1}}
  }},
 {"mark":{"type":"line","strokeWidth":1},
  "encoding":{"x":{"field":"E","type":"quantitative"},"y":{"field":"I","type":"quantitative"},
   "color":{"field":"sample","type":"nominal"},"detail":{"field":"scan"}}},
 {"transform":[{"filter":"datum.sample == 'N-HPCM-0' && datum.E > -0.885 && datum.E < -0.015"}],
  "mark":{"type":"point","shape":"square","filled":true,"size":70,"opacity":1},
  "encoding":{"x":{"field":"E","type":"quantitative"},"y":{"field":"I","type":"quantitative"},"color":{"field":"sample","type":"nominal"}}},
 {"transform":[{"filter":"datum.sample == 'N-HPCM-0.1' && datum.E > -0.885 && datum.E < -0.015"}],
  "mark":{"type":"point","shape":"circle","filled":true,"size":75,"opacity":1},
  "encoding":{"x":{"field":"E","type":"quantitative"},"y":{"field":"I","type":"quantitative"},"color":{"field":"sample","type":"nominal"}}},
 {"transform":[{"filter":"datum.sample == 'N-HPCM-0.2' && datum.E > -0.885 && datum.E < -0.015"}],
  "mark":{"type":"point","shape":"triangle-up","filled":true,"size":75,"opacity":1},
  "encoding":{"x":{"field":"E","type":"quantitative"},"y":{"field":"I","type":"quantitative"},"color":{"field":"sample","type":"nominal"}}},
 {"transform":[{"filter":"datum.sample == 'N-HPCM-0.3' && datum.E > -0.885 && datum.E < -0.015"}],
  "mark":{"type":"point","shape":"triangle-down","filled":true,"size":75,"opacity":1},
  "encoding":{"x":{"field":"E","type":"quantitative"},"y":{"field":"I","type":"quantitative"},"color":{"field":"sample","type":"nominal"}}},
 {"transform":[{"filter":"datum.sample == 'N-HPCM-0.5' && datum.E > -0.885 && datum.E < -0.015"}],
  "mark":{"type":"point","shape":"diamond","filled":true,"size":75,"opacity":1},
  "encoding":{"x":{"field":"E","type":"quantitative"},"y":{"field":"I","type":"quantitative"},"color":{"field":"sample","type":"nominal"}}},
 {"transform":[{"filter":"datum.sample == 'N-HPCM-0.7' && datum.E > -0.885 && datum.E < -0.015"}],
  "mark":{"type":"point","shape":"triangle-left","filled":true,"size":75,"opacity":1},
  "encoding":{"x":{"field":"E","type":"quantitative"},"y":{"field":"I","type":"quantitative"},"color":{"field":"sample","type":"nominal"}}}
]},
{"transform":[{"filter":"false"}],
 "mark":{"type":"point","opacity":0},
 "encoding":{
  "x":{"field":"E","type":"quantitative",
   "axis":{"orient":"top","title":null,"labels":false,"values":[-0.8,-0.7,-0.6,-0.5,-0.4,-0.3,-0.2,-0.1,0],
    "tickSize":{"condition":{"test":"abs(round(datum.value*10))%2==0","value":-8},"value":-4}}},
  "y":{"field":"I","type":"quantitative",
   "axis":{"orient":"right","title":null,"labels":false,"values":[-0.015,-0.0125,-0.01,-0.0075,-0.005,-0.0025,0,0.0025,0.005,0.0075],
    "tickSize":{"condition":{"test":"abs(round(datum.value*400))%2==0","value":-8},"value":-4}}}
 }}
],
"resolve":{"axis":{"x":"independent","y":"independent"}},
"config":{
 "view":{"stroke":null},
 "axis":{"grid":false,"domainColor":"black","domainWidth":1.5,"tickColor":"black","tickWidth":1.2,
  "labelFont":"Liberation Sans","labelFontSize":18,"labelColor":"black","labelFlush":false,"labelOverlap":false,
  "titleFont":"Liberation Serif","titleFontSize":20,"titleFontWeight":"normal","titleColor":"black"}
}
}
